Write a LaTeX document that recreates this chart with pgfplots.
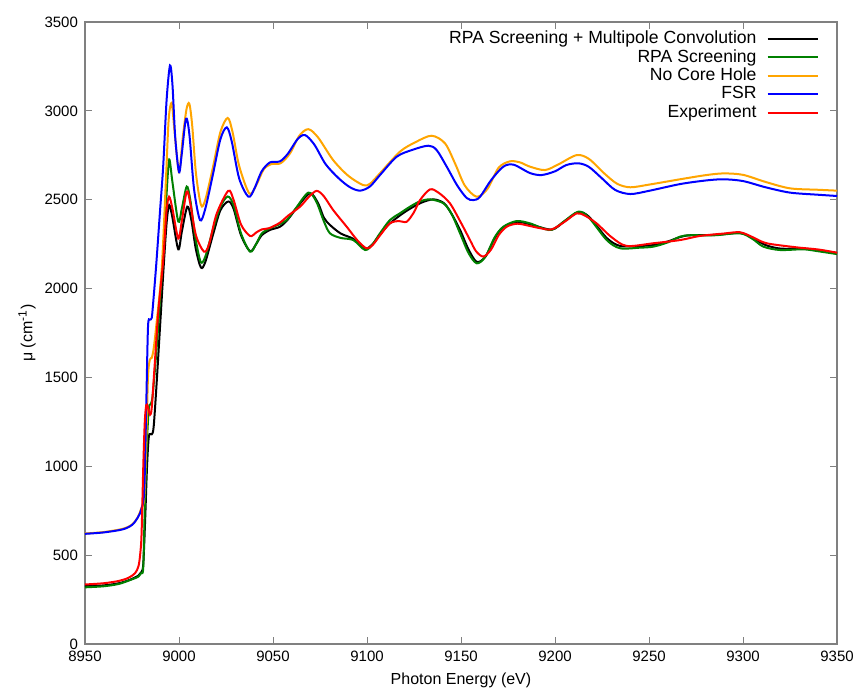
\documentclass[border=0pt]{standalone}
\usepackage{fontspec}
\setmainfont{Liberation Sans}
\usepackage{pgfplots}
\pgfplotsset{compat=1.18}
\definecolor{cgreen}{RGB}{0,128,0}
\definecolor{corange}{RGB}{255,165,0}
\definecolor{axgray}{RGB}{128,128,128}
\begin{document}
\begin{tikzpicture}
\begin{axis}[
    scale only axis, width=376pt, height=311pt,
    xmin=8950, xmax=9350, ymin=0, ymax=3500,
    xtick={8950,9000,...,9350}, ytick={0,500,...,3500},
    tick align=inside, xtick pos=both, ytick pos=both,
    major tick length=3.5pt,
    axis line style={axgray, line width=0.6pt},
    tick style={axgray, line width=0.5pt},
    /pgf/number format/assume math mode=true,
    /pgf/number format/set thousands separator={},
    ticklabel style={font=\fontsize{7.5}{9}\selectfont},
    xlabel={Photon Energy (eV)},
    ylabel={μ (cm\textsuperscript{-1})},
    label style={font=\fontsize{8}{9}\selectfont},
    xlabel style={at={(axis description cs:0.5,-0.058)}, anchor=center},
    ylabel style={at={(axis description cs:-0.077,0.5)}, anchor=center},
    legend style={at={(0.976,0.988)}, anchor=north east, draw=none, fill=none,
      inner sep=0pt, font=\fontsize{8.8}{9}\selectfont,
      nodes={inner sep=0.5pt, text height=6.4pt, text depth=1.8pt}},
    legend cell align=right, legend plot pos=right,
    legend image code/.code={\path (0pt,0pt); \draw[#1] (4.5pt,0pt) -- (29.5pt,0pt);},
    every axis plot/.append style={line width=1pt, smooth},
  ]
  % RPA Screening + Multipole Convolution
  \addplot[black] coordinates {
    (8950,325) (8960,330) (8968,342) (8974,362) (8978.4,385) (8980,405) (8981,450)
    (8982,700) (8983,1000) (8984,1170) (8985.5,1180) (8986.5,1220) (8988,1450)
    (8990,1800) (8992,2150) (8993.5,2380) (8994.8,2470) (8996.5,2400) (8999.6,2221)
    (9001.5,2320) (9004.4,2461) (9006.5,2390) (9009,2220) (9011.7,2118) (9014,2150)
    (9018,2300) (9022,2440) (9026.2,2490) (9029,2450) (9033,2300) (9037.8,2210)
    (9041,2250) (9044,2300) (9048.4,2330) (9053.7,2348) (9058,2390) (9063,2460)
    (9069.7,2536) (9074,2480) (9077,2400) (9080.3,2358) (9086,2310) (9092.7,2280)
    (9099,2226) (9103,2250) (9106.9,2305) (9112.2,2367) (9120,2430) (9128.2,2480)
    (9135.3,2502) (9141,2480) (9145,2420) (9149.5,2330) (9154,2220) (9158.4,2150)
    (9163,2180) (9168,2285) (9172.5,2345) (9179.6,2375) (9186.7,2362) (9198.2,2332)
    (9205,2378) (9212.4,2430) (9218,2405) (9227.5,2285) (9234.6,2240) (9245,2240)
    (9252.3,2245) (9260,2265) (9266.5,2290) (9271.8,2300) (9285,2302) (9298.4,2313)
    (9305,2285) (9312,2245) (9320,2225) (9332,2225) (9340,2215) (9350,2200)
  };
  \addlegendentry{RPA Screening + Multipole Convolution}
  % RPA Screening
  \addplot[cgreen] coordinates {
    (8950,319) (8960,325) (8968,338) (8974,360) (8978.4,379) (8980,400) (8981,435)
    (8981.9,810) (8983,1150) (8984,1330) (8985,1350) (8986,1400) (8988,1650)
    (8990,1950) (8992,2250) (8993.5,2550) (8994.8,2726) (8996.5,2600) (8999.6,2377)
    (9001.5,2450) (9004.1,2574) (9006,2500) (9008.5,2300) (9011.5,2151) (9014,2180)
    (9018,2330) (9022,2460) (9025.9,2518) (9029,2470) (9033,2310) (9037.8,2208)
    (9041,2250) (9044,2310) (9048.4,2339) (9053,2360) (9057.3,2386) (9062,2450)
    (9068.8,2540) (9073,2490) (9077,2380) (9080.3,2311) (9086,2285) (9092.7,2273)
    (9099,2217) (9103,2250) (9106.9,2311) (9112.2,2386) (9117,2420) (9122.9,2461)
    (9128,2490) (9133.5,2502) (9140.6,2480) (9145,2420) (9149.5,2311) (9154,2200)
    (9158.4,2142) (9163,2180) (9168,2290) (9172.5,2348) (9179.6,2380) (9186.7,2367)
    (9192,2345) (9198.2,2330) (9205,2380) (9212.4,2433) (9218,2400) (9227.5,2273)
    (9234.6,2227) (9245,2230) (9252.3,2236) (9260,2260) (9266.5,2292) (9271.8,2300)
    (9285,2300) (9298.4,2311) (9305,2280) (9310.8,2236) (9319.7,2217) (9332.1,2221)
    (9340,2210) (9350,2194)
  };
  \addlegendentry{RPA Screening}
  % No Core Hole
  \addplot[corange] coordinates {
    (8950,622) (8960,630) (8970,648) (8975,672) (8978,712) (8980,765) (8981.5,820)
    (8982.5,1100) (8983.5,1500) (8984.5,1600) (8985.5,1610) (8986.5,1660) (8988,1800)
    (8990.8,2110) (8993,2600) (8994.5,2950) (8996.1,3045) (8997.5,2900) (9000,2658)
    (9002,2850) (9004,3010) (9005.5,3040) (9007,2920) (9009,2650) (9011.7,2470)
    (9014,2500) (9018,2680) (9022,2880) (9025.9,2960) (9028.5,2880) (9032,2690)
    (9037.4,2535) (9041,2580) (9045,2670) (9049,2700) (9054,2705) (9059,2760)
    (9064,2860) (9068.8,2897) (9074,2850) (9082,2723) (9090,2635) (9098,2582)
    (9101.6,2590) (9107,2650) (9117.6,2771) (9126,2825) (9134.4,2860) (9141.5,2817)
    (9147,2700) (9152,2580) (9158.3,2517) (9164,2560) (9170,2680) (9176,2716)
    (9181.4,2710) (9186.7,2686) (9194.7,2667) (9202,2700) (9211.5,2751) (9218,2730)
    (9226,2650) (9233,2590) (9240,2570) (9250,2585) (9266.5,2615) (9280,2638)
    (9289.5,2648) (9300,2640) (9312,2600) (9325,2564) (9340,2556) (9350,2551)
  };
  \addlegendentry{No Core Hole}
  % FSR
  \addplot[blue] coordinates {
    (8950,620) (8960,628) (8970,645) (8975,670) (8978,710) (8980,760) (8981.5,860)
    (8982.5,1300) (8983.5,1780) (8984.5,1825) (8985.5,1835) (8986.5,1950) (8988,2150)
    (8990,2450) (8991.6,2690) (8993.4,3060) (8995.2,3255) (8996.5,3150) (8998,2850)
    (9000,2655) (9001.5,2760) (9003.7,2955) (9005.5,2870) (9008,2560) (9011.2,2385)
    (9014,2450) (9018,2640) (9022,2840) (9025.4,2907) (9028,2830) (9032,2620)
    (9036.9,2517) (9040,2560) (9044,2660) (9048.4,2710) (9053.7,2716) (9058,2760)
    (9063,2840) (9067,2864) (9072,2810) (9078,2700) (9085,2620) (9091,2570)
    (9096.3,2551) (9101.6,2575) (9107,2640) (9115.8,2742) (9124,2780) (9132.6,2804)
    (9137,2780) (9142.4,2686) (9148,2580) (9153,2510) (9156.5,2498) (9160,2515)
    (9166,2610) (9172.5,2686) (9178,2697) (9186.7,2650) (9192.9,2639) (9200,2660)
    (9206,2695) (9212.4,2705) (9218,2685) (9225,2620) (9232,2555) (9240,2532)
    (9250,2550) (9266.5,2588) (9280,2608) (9289.5,2615) (9300,2605) (9312,2570)
    (9325,2540) (9340,2528) (9350,2521)
  };
  \addlegendentry{FSR}
  % Experiment
  \addplot[red] coordinates {
    (8950,335) (8960,342) (8968,355) (8973,372) (8976.6,398) (8978.5,440) (8979.5,520)
    (8980.1,624) (8981,998) (8981.8,1250) (8982.6,1345) (8983.4,1335) (8984.6,1290)
    (8985.5,1330) (8987,1560) (8989,1870) (8991.6,2160) (8993.3,2430) (8994.7,2517)
    (8996.5,2450) (8999.6,2282) (9001.5,2380) (9004.1,2546) (9006,2480) (9009,2300)
    (9013.3,2208) (9016,2250) (9020,2420) (9026.2,2550) (9029,2500) (9033,2360)
    (9037.8,2296) (9041,2315) (9044,2333) (9048,2340) (9053.7,2371) (9058,2410)
    (9064.4,2461) (9069,2515) (9073.2,2550) (9077,2520) (9082,2442) (9089.2,2348)
    (9095,2270) (9099.8,2226) (9103,2245) (9107,2300) (9112.2,2367) (9117,2380)
    (9121.1,2376) (9125,2430) (9128.2,2498) (9133.5,2558) (9138,2540) (9144.1,2480)
    (9150,2370) (9154.8,2273) (9158,2210) (9161.9,2180) (9166,2220) (9170,2300)
    (9174.3,2348) (9180,2365) (9186.7,2352) (9192,2340) (9198.2,2333) (9205,2375)
    (9211.5,2423) (9216,2410) (9222.1,2367) (9230,2290) (9238.1,2240) (9252.3,2255)
    (9266.5,2273) (9277,2296) (9290,2310) (9298.4,2317) (9305,2290) (9312.6,2255)
    (9328.6,2232) (9340,2220) (9350,2202)
  };
  \addlegendentry{Experiment}
\end{axis}
\pgfresetboundingbox
\path[use as bounding box] ([xshift=-42.5pt,yshift=-24pt]current axis.south west) rectangle ([xshift=10pt,yshift=11pt]current axis.north east);
\end{tikzpicture}
\end{document}
